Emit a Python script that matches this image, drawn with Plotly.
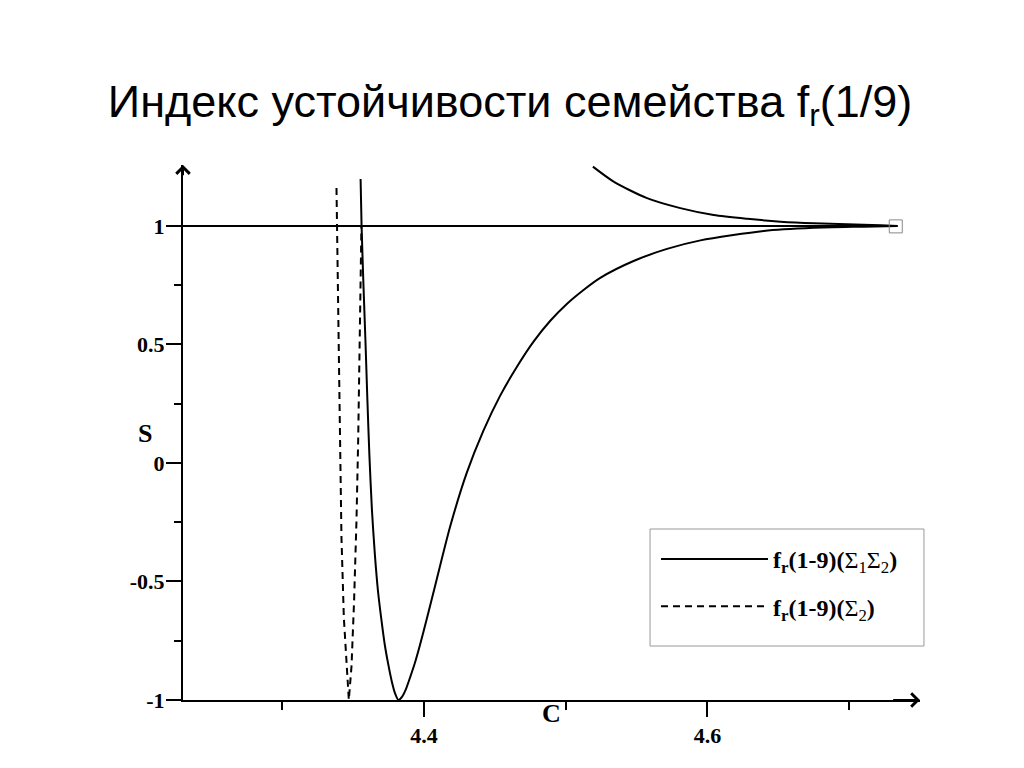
import plotly.graph_objects as go

# ---- data ----
title_text = "Индекс устойчивости семейства f<sub>r</sub>(1/9)"

# family Σ1Σ2 : lower branch (deep well then approach to 1 from below)
c_lower = [4.3553, 4.3560, 4.3572, 4.3587, 4.3601, 4.3615, 4.3633, 4.3654, 4.3675, 4.3700,
           4.3724, 4.3749, 4.3774, 4.3795, 4.3820, 4.3845, 4.3873, 4.3901, 4.3936, 4.3972,
           4.4018, 4.4066, 4.4184, 4.4302, 4.4419, 4.4537, 4.4655, 4.4772, 4.4890, 4.5008,
           4.5126, 4.5244, 4.5479, 4.5715, 4.5951, 4.6398, 4.6749, 4.7102, 4.7341]
s_lower = [1.198, 1.000, 0.772, 0.519, 0.266, 0.034, -0.198, -0.388, -0.536, -0.662,
           -0.768, -0.852, -0.924, -0.970, -1.000, -0.987, -0.954, -0.907, -0.844, -0.768,
           -0.662, -0.549, -0.270, -0.042, 0.135, 0.283, 0.405, 0.511, 0.599, 0.671,
           0.730, 0.781, 0.852, 0.903, 0.939, 0.979, 0.992, 0.997, 1.000]

# family Σ1Σ2 : upper branch (approach to 1 from above)
c_upper = [4.5192, 4.5338, 4.5574, 4.5809, 4.6044, 4.6281, 4.6516, 4.6751, 4.6987, 4.7223, 4.7341]
s_upper = [1.250, 1.187, 1.117, 1.075, 1.046, 1.030, 1.018, 1.011, 1.007, 1.003, 1.000]

# family Σ1Σ2 : flat branch S = 1
c_flat = [4.2300, 4.7341]
s_flat = [1.0, 1.0]

# family Σ2 (dashed)
c_dash = [4.3383, 4.3387, 4.3396, 4.3411, 4.3418, 4.3435, 4.3454, 4.3465, 4.3470,
          4.3489, 4.3507, 4.3524, 4.3536, 4.3555, 4.3559]
s_dash = [1.160, 1.000, 0.688, 0.097, -0.312, -0.654, -0.857, -0.979, -1.000,
          -0.857, -0.584, -0.243, 0.097, 0.844, 1.000]

# end point marker
c_end = [4.7329]
s_end = [0.998]

x_ticks = [4.4, 4.6]
x_ticktext = ["4.4", "4.6"]
x_minor = [4.3, 4.5, 4.7]
y_ticks = [-1, -0.5, 0, 0.5, 1]
y_ticktext = ["-1", "-0.5", "0", "0.5", "1"]
y_minor = [-0.75, -0.25, 0.25, 0.75]

x_range = [4.23, 4.75]
y_range = [-1.0, 1.257]

name_solid = "<b>f<sub>r</sub>(1-9)(</b>Σ<sub>1</sub>Σ<sub>2</sub><b>)</b>"
name_dash = "<b>f<sub>r</sub>(1-9)(</b>Σ<sub>2</sub><b>)</b>"

# ---- figure ----
solid_x = c_lower + [None] + c_upper + [None] + c_flat
solid_y = s_lower + [None] + s_upper + [None] + s_flat

fig = go.Figure()
fig.add_trace(go.Scatter(
    x=solid_x, y=solid_y, mode="lines", name=name_solid,
    line=dict(color="black", width=2, shape="spline", smoothing=0.7),
    connectgaps=False, legendgroup="a"))
fig.add_trace(go.Scatter(
    x=c_dash, y=s_dash, mode="lines", name=name_dash,
    line=dict(color="black", width=2, dash="7px,5px"),
    legendgroup="b"))
fig.add_trace(go.Scatter(
    x=c_end, y=s_end, mode="markers", showlegend=False, hoverinfo="skip",
    marker=dict(symbol="square-open", size=13, color="#888888", line=dict(width=1))))

tick_font = dict(family="Liberation Serif", size=22, color="black", weight="bold")

fig.update_xaxes(
    range=x_range, showline=True, linecolor="black", linewidth=2,
    showgrid=False, zeroline=False,
    tickmode="array", tickvals=x_ticks, ticktext=x_ticktext,
    ticks="outside", ticklen=15, tickwidth=2, tickcolor="black",
    tickfont=tick_font, ticklabelstandoff=0,
    minor=dict(tickmode="array", tickvals=x_minor, ticks="outside", ticklen=8,
               tickwidth=2, tickcolor="black", showgrid=False))
fig.update_yaxes(
    range=y_range, showline=True, linecolor="black", linewidth=2,
    showgrid=False, zeroline=False,
    tickmode="array", tickvals=y_ticks, ticktext=y_ticktext,
    ticks="outside", ticklen=15, tickwidth=2, tickcolor="black",
    tickfont=tick_font, ticklabelstandoff=-3,
    minor=dict(tickmode="array", tickvals=y_minor, ticks="outside", ticklen=7,
               tickwidth=2, tickcolor="black", showgrid=False))

# axis arrows
fig.add_annotation(x=x_range[1], y=y_range[0], ax=x_range[1] - 0.02, ay=y_range[0],
                   xref="x", yref="y", axref="x", ayref="y", text="", showarrow=True,
                   arrowhead=4, arrowsize=1.3, arrowwidth=2, arrowcolor="black")
fig.add_annotation(x=x_range[0], y=y_range[1], ax=x_range[0], ay=y_range[1] - 0.05,
                   xref="x", yref="y", axref="x", ayref="y", text="", showarrow=True,
                   arrowhead=4, arrowsize=1.3, arrowwidth=2, arrowcolor="black")

# axis titles
fig.add_annotation(x=0.5, y=-0.026, xref="paper", yref="paper", text="<b>C</b>",
                   showarrow=False, xanchor="center", yanchor="middle",
                   font=dict(family="Liberation Serif", size=26, color="black"))
fig.add_annotation(x=-0.051, y=0.498, xref="paper", yref="paper", text="<b>S</b>",
                   showarrow=False, xanchor="center", yanchor="middle",
                   font=dict(family="Liberation Serif", size=26, color="black"))

# legend frame
fig.add_shape(type="rect", xref="paper", yref="paper",
              x0=0.6337, x1=1.0054, y0=0.1009, y1=0.3196,
              line=dict(color="#999999", width=1), fillcolor="white", layer="below")

fig.update_layout(
    width=1016, height=760,
    margin=dict(l=175, r=104, t=157, b=68),
    paper_bgcolor="white", plot_bgcolor="white",
    title=dict(text=title_text, x=0.4941, xref="container", xanchor="center",
               y=0.8776, yref="container", yanchor="middle",
               font=dict(family="Liberation Sans", size=45, color="black")),
    legend=dict(x=0.6418, y=0.3047, xanchor="left", yanchor="top",
                borderwidth=0, bgcolor="rgba(0,0,0,0)",
                font=dict(family="Liberation Serif", size=24, color="black"),
                itemwidth=107, tracegroupgap=13),
    showlegend=True,
)

fig.write_html("out.html")
